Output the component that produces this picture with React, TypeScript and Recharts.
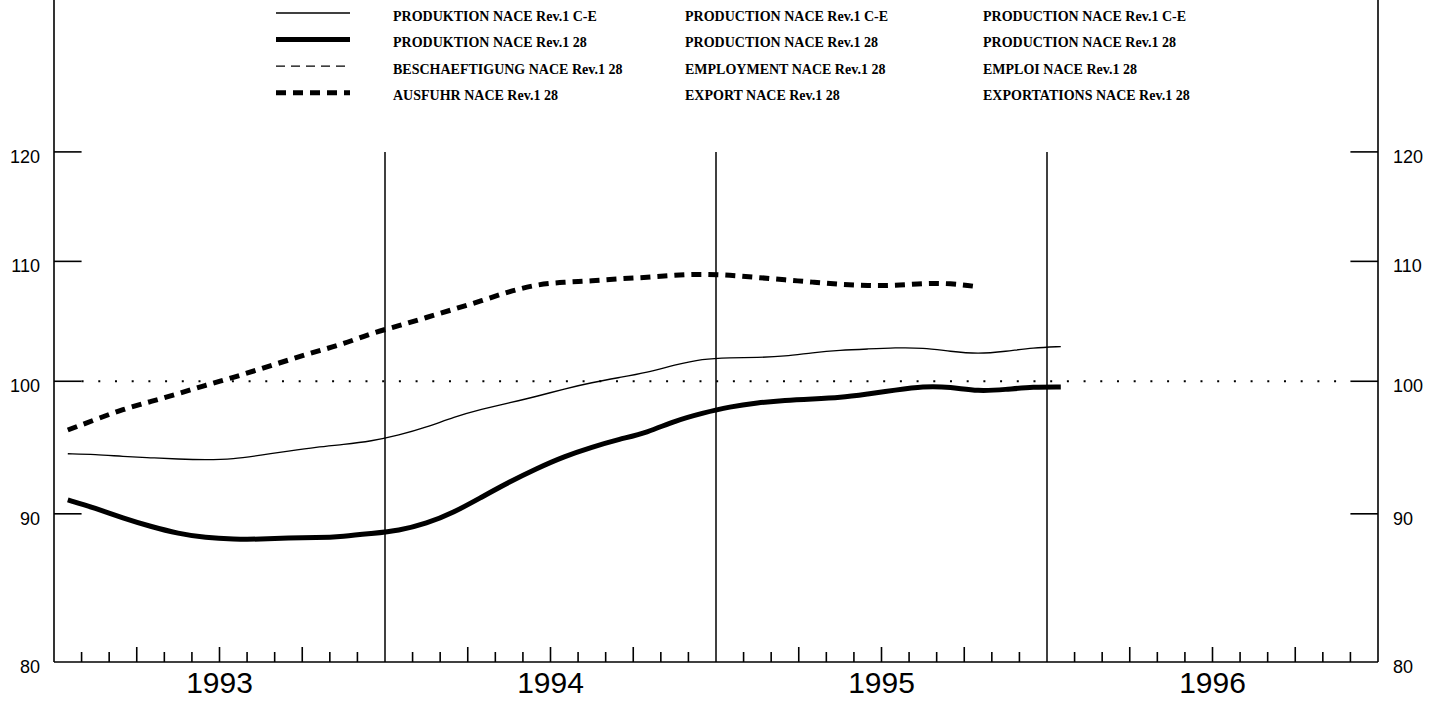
import React from 'react';
import { LineChart, Line, XAxis, YAxis, ReferenceLine, Legend } from 'recharts';

// ---- data (monthly index values, Jan 1993 .. ) ----
const YEARS = ['1993', '1994', '1995', '1996'];
const Y_TICKS = [80, 90, 100, 110, 120];
const YEAR_LINES = [12, 24, 36];

const PROD_CE = [
  94.4, 94.35, 94.2, 94.1, 94.0, 93.95, 94.0, 94.3, 94.6, 94.9, 95.1, 95.35,
  95.8, 96.4, 97.2, 97.8, 98.3, 98.8, 99.4, 99.9, 100.3, 100.7, 101.3, 101.8,
  101.9, 101.9, 102.0, 102.3, 102.5, 102.6, 102.7, 102.7, 102.4, 102.2, 102.4, 102.7,
  102.8,
];
const PROD_28 = [
  91.0, 90.4, 89.7, 89.1, 88.6, 88.3, 88.2, 88.2, 88.3, 88.3, 88.4, 88.6,
  88.8, 89.3, 90.1, 91.2, 92.3, 93.3, 94.2, 94.9, 95.5, 96.0, 96.9, 97.5,
  98.0, 98.3, 98.5, 98.6, 98.7, 99.0, 99.3, 99.6, 99.55, 99.2, 99.35, 99.55,
  99.55,
];
const EXPORT_28 = [
  96.2, 97.0, 97.8, 98.4, 99.0, 99.7, 100.3, 101.0, 101.7, 102.4, 103.0, 103.9,
  104.5, 105.2, 105.9, 106.6, 107.4, 108.0, 108.2, 108.3, 108.5, 108.6, 108.8, 108.9,
  108.8, 108.6, 108.4, 108.2, 108.0, 107.9, 107.9, 108.1, 108.1, 107.8,
];

const LEGEND_DE = [
  'PRODUKTION NACE Rev.1 C-E',
  'PRODUKTION NACE Rev.1 28',
  'BESCHAEFTIGUNG NACE Rev.1 28',
  'AUSFUHR NACE Rev.1 28',
];
const LEGEND_EN = [
  'PRODUCTION NACE Rev.1 C-E',
  'PRODUCTION NACE Rev.1 28',
  'EMPLOYMENT NACE Rev.1 28',
  'EXPORT NACE Rev.1 28',
];
const LEGEND_FR = [
  'PRODUCTION NACE Rev.1 C-E',
  'PRODUCTION NACE Rev.1 28',
  'EMPLOI NACE Rev.1 28',
  'EXPORTATIONS NACE Rev.1 28',
];

// ---- styles ----
const LINE_STYLES = [
  { width: 1.3, dash: undefined as string | undefined },
  { width: 5, dash: undefined as string | undefined },
  { width: 1.3, dash: '9 6' },
  { width: 5, dash: '10 7' },
];

const MONTH_TICKS = Array.from({ length: 49 }, (_, i) => i);

const tableData = PROD_CE.map((v, i) => ({
  x: i + 0.5,
  prodCE: v,
  prod28: PROD_28[i],
  export28: i < EXPORT_28.length ? EXPORT_28[i] : null,
}));

const W = 1433;
const H = 701;

const XTick = (props: any) => {
  const { x, y, payload } = props;
  const m = payload.value as number;
  const els: any[] = [];
  if (m > 0 && m < 48 && m % 12 !== 0) {
    const len = m % 3 === 0 ? 15 : 10;
    els.push(<line key="t" x1={x} x2={x} y1={y} y2={y - len} stroke="#000" strokeWidth={1.6} />);
  }
  if (m % 12 === 6) {
    els.push(
      <text key="l" x={x} y={y + 31} textAnchor="middle" fontSize={30} fontFamily="Liberation Sans, Arial, sans-serif" fill="#000">
        {YEARS[(m - 6) / 12]}
      </text>
    );
  }
  return <g>{els}</g>;
};

const LeftTick = (props: any) => {
  const { x, y, payload } = props;
  return (
    <text x={x - 14} y={y + 11} textAnchor="end" fontSize={18} fontFamily="Liberation Sans, Arial, sans-serif" fill="#000">
      {payload.value}
    </text>
  );
};

const RightTick = (props: any) => {
  const { x, y, payload } = props;
  return (
    <text x={x + 15} y={y + 11} textAnchor="start" fontSize={18} fontFamily="Liberation Sans, Arial, sans-serif" fill="#000">
      {payload.value}
    </text>
  );
};

const LegendBox = () => {
  const cols = [LEGEND_DE, LEGEND_EN, LEGEND_FR];
  const colX = [393, 685, 983];
  return (
    <svg width={W} height={110} style={{ display: 'block' }}>
      {LINE_STYLES.map((s, i) => {
        const ly = 13 + 26.6 * i;
        return (
          <g key={i}>
            <line x1={276} x2={350} y1={ly} y2={ly} stroke="#000" strokeWidth={s.width} strokeDasharray={s.dash} />
            {cols.map((c, j) => (
              <text key={j} x={colX[j]} y={ly + 7.5} fontSize={14} fontWeight="bold" fontFamily="Liberation Serif, Times New Roman, serif" fill="#000">
                {c[i]}
              </text>
            ))}
          </g>
        );
      })}
    </svg>
  );
};

export default function App() {
  return (
    <div style={{ position: 'absolute', left: 0, top: 0, width: W, height: H, background: '#fff' }}>
      <LineChart width={W} height={H} data={tableData} margin={{ top: 0, right: 0, bottom: 0, left: 0 }}>
        <XAxis
          dataKey="x"
          type="number"
          domain={[0, 48]}
          ticks={MONTH_TICKS}
          interval={0}
          height={39}
          tickSize={0}
          tickMargin={0}
          tickLine={false}
          tick={<XTick />}
          axisLine={{ stroke: '#000', strokeWidth: 1.6 }}
          allowDataOverflow
        />
        <YAxis
          yAxisId="left"
          orientation="left"
          scale="log"
          domain={[80, 135.4]}
          ticks={Y_TICKS}
          interval={0}
          width={54}
          allowDataOverflow
          tickSize={0}
          tickMargin={0}
          tickLine={false}
          tick={<LeftTick />}
          axisLine={{ stroke: '#000', strokeWidth: 1.6 }}
        />
        <YAxis
          yAxisId="right"
          orientation="right"
          scale="log"
          domain={[80, 135.4]}
          ticks={Y_TICKS}
          interval={0}
          width={55}
          allowDataOverflow
          tickSize={0}
          tickMargin={0}
          tickLine={false}
          tick={<RightTick />}
          axisLine={{ stroke: '#000', strokeWidth: 1.6 }}
        />
        <Legend
          verticalAlign="middle"
          align="center"
          layout="horizontal"
          wrapperStyle={{ position: 'absolute', top: 0, left: 0, width: W, height: 110 }}
          content={() => <LegendBox />}
        />
        {YEAR_LINES.map((m) => (
          <ReferenceLine
            key={'v' + m}
            yAxisId="left"
            segment={[{ x: m, y: 80 }, { x: m, y: 120 }]}
            stroke="#000"
            strokeWidth={1.5}
          />
        ))}
        {Y_TICKS.filter((t) => t > 80).map((t) => (
          <ReferenceLine
            key={'l' + t}
            yAxisId="left"
            segment={[{ x: 0, y: t }, { x: 1, y: t }]}
            stroke="#000"
            strokeWidth={1.6}
          />
        ))}
        {Y_TICKS.filter((t) => t > 80).map((t) => (
          <ReferenceLine
            key={'r' + t}
            yAxisId="left"
            segment={[{ x: 47, y: t }, { x: 48, y: t }]}
            stroke="#000"
            strokeWidth={1.6}
          />
        ))}
        <ReferenceLine
          yAxisId="left"
          segment={[{ x: 1, y: 100 }, { x: 47, y: 100 }]}
          stroke="#000"
          strokeWidth={2}
          strokeDasharray="2 14.7"
        />
        <Line yAxisId="left" dataKey="prodCE" type="basis" stroke="#000" strokeWidth={LINE_STYLES[0].width} dot={false} isAnimationActive={false} />
        <Line yAxisId="left" dataKey="prod28" type="basis" stroke="#000" strokeWidth={LINE_STYLES[1].width} dot={false} isAnimationActive={false} />
        <Line yAxisId="left" dataKey="export28" type="basis" stroke="#000" strokeWidth={LINE_STYLES[3].width} strokeDasharray={LINE_STYLES[3].dash} dot={false} isAnimationActive={false} />
      </LineChart>
    </div>
  );
}
